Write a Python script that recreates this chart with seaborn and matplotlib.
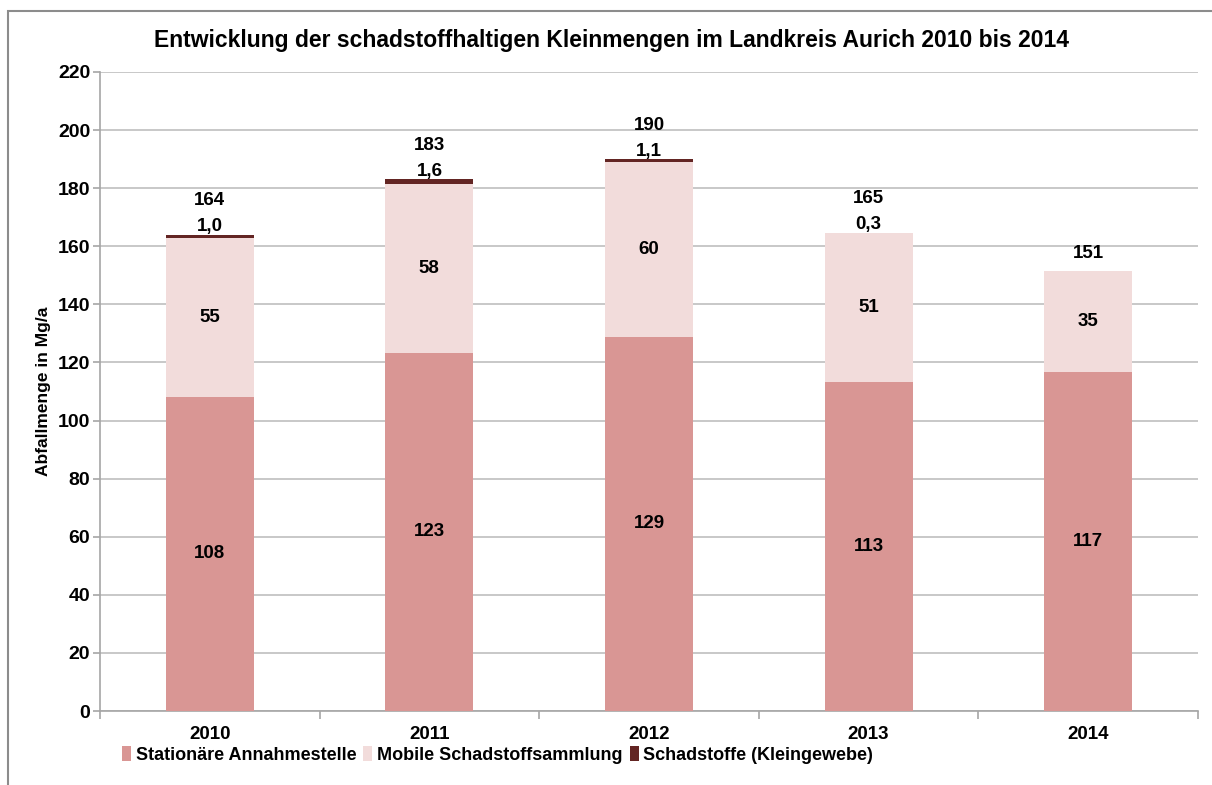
import matplotlib
matplotlib.use("Agg")
import matplotlib.pyplot as plt
from matplotlib.patches import Rectangle, Patch
import seaborn as sns
import numpy as np
import pandas as pd

years = ["2010", "2011", "2012", "2013", "2014"]
stationaer = [108.2, 123.3, 128.9, 113.2, 116.8]
mobil = [54.8, 58.1, 60.0, 51.2, 34.6]
kleingewebe = [1.0, 1.6, 1.1, 0.3, 0.0]
series_names = ["Stationäre Annahmestelle", "Mobile Schadstoffsammlung", "Schadstoffe (Kleingewebe)"]
colors = ["#D99694", "#F2DCDB", "#632523"]

sns.set_theme(style="white")
plt.rcParams["font.family"] = ["Liberation Sans", "DejaVu Sans"]
plt.rcParams["font.weight"] = "bold"
plt.rcParams["text.color"] = "black"
plt.rcParams["axes.labelcolor"] = "black"
plt.rcParams["xtick.color"] = "black"
plt.rcParams["ytick.color"] = "black"

fig = plt.figure(figsize=(12.12, 7.85), dpi=100)
ax = fig.add_axes([100 / 1212, 1 - 711 / 785, 1098 / 1212, (711 - 72) / 785])

df = pd.DataFrame({"year": years, "s": stationaer, "m": mobil, "k": kleingewebe})
df["sm"] = df["s"] + df["m"]
df["total"] = df["sm"] + df["k"]

sns.barplot(data=df, x="year", y="total", color=colors[2], saturation=1, width=0.4,
            errorbar=None, ax=ax, zorder=2, linewidth=0)
sns.barplot(data=df, x="year", y="sm", color=colors[1], saturation=1, width=0.4,
            errorbar=None, ax=ax, zorder=3, linewidth=0)
sns.barplot(data=df, x="year", y="s", color=colors[0], saturation=1, width=0.4,
            errorbar=None, ax=ax, zorder=4, linewidth=0)

ax.set_ylim(0, 220)
ax.set_xlim(-0.5, 4.5)
ax.set_yticks(np.arange(0, 221, 20))
ax.yaxis.grid(True, color="#BFBFBF", linewidth=1.2, zorder=0)
ax.set_axisbelow(True)
for sp in ["top", "right"]:
    ax.spines[sp].set_visible(False)
for sp in ["left", "bottom"]:
    ax.spines[sp].set_color("#A6A6A6")
    ax.spines[sp].set_linewidth(1.2)

ax.tick_params(axis="y", which="both", left=True, length=5, color="#A6A6A6", width=1.2,
               labelsize=14, pad=2, labelcolor="black")
ax.set_xticks(range(len(years)))
ax.set_xticklabels(years, fontsize=13.5, fontweight="bold", color="black")
ax.tick_params(axis="x", which="major", bottom=False, length=0, pad=11)
ax.set_xticks(np.arange(-0.5, 5.0, 1.0), minor=True)
ax.tick_params(axis="x", which="minor", bottom=True, length=6, color="#A6A6A6", width=1.2)
for lbl in ax.get_yticklabels():
    lbl.set_fontweight("bold")
ax.set_xlabel("")
ax.set_ylabel("Abfallmenge in Mg/a", fontsize=12.5, fontweight="bold", labelpad=5, color="black")

def fmt_de(v):
    return f"{v:.1f}".replace(".", ",")

fs = 13.5
for i in range(len(years)):
    s, m, k = stationaer[i], mobil[i], kleingewebe[i]
    tot = s + m + k
    ax.text(i, s / 2, f"{s:.0f}", ha="center", va="center", fontsize=fs, fontweight="bold", zorder=6)
    ax.text(i, s + m / 2, f"{m:.0f}", ha="center", va="center", fontsize=fs, fontweight="bold", zorder=6)
    if k > 0:
        ax.annotate(fmt_de(k), (i, tot), xytext=(0, 8), textcoords="offset pixels",
                    ha="center", va="center", fontsize=fs, fontweight="bold", zorder=6)
        ax.annotate(f"{tot:.0f}", (i, tot), xytext=(0, 34), textcoords="offset pixels",
                    ha="center", va="center", fontsize=fs, fontweight="bold", zorder=6)
    else:
        ax.annotate(f"{tot:.0f}", (i, tot), xytext=(0, 18), textcoords="offset pixels",
                    ha="center", va="center", fontsize=fs, fontweight="bold", zorder=6)

fig.suptitle("Entwicklung der schadstoffhaltigen Kleinmengen im Landkreis Aurich 2010 bis 2014",
             x=611 / 1212, y=1 - 40 / 785, ha="center", va="center", fontsize=16.5,
             fontweight="bold", color="black")

handles = [Patch(facecolor=c, edgecolor="none") for c in colors]
fig.legend(handles, series_names, loc="center left", bbox_to_anchor=(122 / 1212, 1 - 755 / 785),
           ncol=3, frameon=False, fontsize=13, handlelength=0.5, handleheight=0.9,
           handletextpad=0.25, columnspacing=0.4, borderaxespad=0, borderpad=0)

fig.patches.append(Rectangle((8 / 1212, -0.05), 1.2, 1 - 11 / 785 + 0.05, transform=fig.transFigure,
                             fill=False, edgecolor="#8C8C8C", linewidth=1.5, zorder=10))

fig.savefig("out.png", dpi=100, facecolor="white")
